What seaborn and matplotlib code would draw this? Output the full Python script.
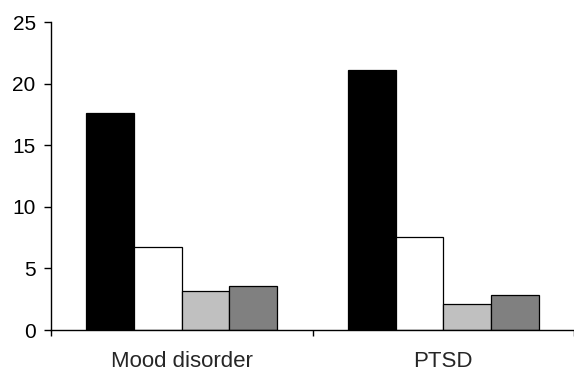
import pandas as pd
import matplotlib.pyplot as plt
import seaborn as sns

# values
groups = ['Mood disorder', 'PTSD']
series = ['s1', 's2', 's3', 's4']
mood_vals = [17.6, 6.75, 3.15, 3.6]
ptsd_vals = [21.1, 7.55, 2.1, 2.85]
bar_colors = ['#000000', '#ffffff', '#c0c0c0', '#808080']

rows = []
for g, vals in zip(groups, [mood_vals, ptsd_vals]):
    for s, v in zip(series, vals):
        rows.append({'group': g, 'series': s, 'value': v})
df = pd.DataFrame(rows)

sns.set_style('ticks')
plt.rcParams['font.family'] = ['Liberation Sans', 'DejaVu Sans']

fig = plt.figure(figsize=(5.74, 3.71), dpi=100)
ax = fig.add_axes([51 / 574, 41 / 371, 523 / 574, 308 / 371])

sns.barplot(data=df, x='group', y='value', hue='series', order=groups,
            hue_order=series, palette=bar_colors, width=0.73,
            edgecolor='black', linewidth=0.9, legend=False, ax=ax)

ax.set_xlim(-0.5, 1.5)
ax.set_ylim(0, 25)
ax.set_yticks([0, 5, 10, 15, 20, 25])
ax.set_xlabel('')
ax.set_ylabel('')
sns.despine(ax=ax)
for sp in ['left', 'bottom']:
    ax.spines[sp].set_linewidth(1.0)
    ax.spines[sp].set_color('black')

ax.tick_params(axis='y', length=5, width=1, labelsize=15, pad=6, colors='black')
ax.tick_params(axis='x', which='major', length=0, labelsize=16, pad=15)
ax.set_xticks([-0.5, 0.5, 1.5], minor=True)
ax.tick_params(axis='x', which='minor', length=4, width=1, color='black')

fig.savefig('out.png', dpi=100)
